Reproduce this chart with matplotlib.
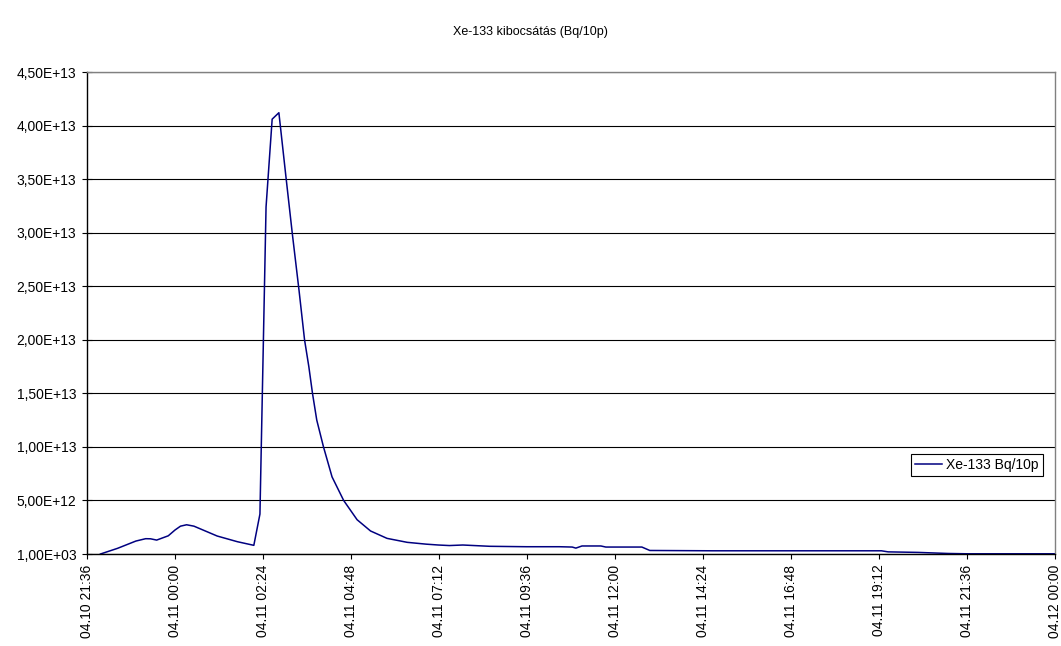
import pandas as pd
import matplotlib.pyplot as plt
import matplotlib.dates as mdates
from matplotlib.ticker import FixedLocator, FuncFormatter

plt.rcParams['font.family'] = ['Liberation Sans', 'DejaVu Sans']

# Xe-133 release per 10 minutes, Paks, 2003 April 10-12
times = [
    "2003-04-10 21:58", "2003-04-10 22:26", "2003-04-10 22:56", "2003-04-10 23:12",
    "2003-04-10 23:20", "2003-04-10 23:30", "2003-04-10 23:49", "2003-04-11 00:00",
    "2003-04-11 00:09", "2003-04-11 00:19", "2003-04-11 00:31", "2003-04-11 01:09",
    "2003-04-11 01:42", "2003-04-11 02:09", "2003-04-11 02:19", "2003-04-11 02:29",
    "2003-04-11 02:39", "2003-04-11 02:50", "2003-04-11 03:01", "2003-04-11 03:12",
    "2003-04-11 03:23", "2003-04-11 03:32", "2003-04-11 03:39", "2003-04-11 03:45",
    "2003-04-11 03:52", "2003-04-11 04:03", "2003-04-11 04:17", "2003-04-11 04:36",
    "2003-04-11 04:58", "2003-04-11 05:20", "2003-04-11 05:47", "2003-04-11 06:20",
    "2003-04-11 06:51", "2003-04-11 07:11", "2003-04-11 07:29", "2003-04-11 07:51",
    "2003-04-11 08:35", "2003-04-11 09:35", "2003-04-11 10:29", "2003-04-11 10:50",
    "2003-04-11 10:56", "2003-04-11 11:06", "2003-04-11 11:37", "2003-04-11 11:45",
    "2003-04-11 12:44", "2003-04-11 12:57", "2003-04-11 14:40", "2003-04-11 16:40",
    "2003-04-11 19:16", "2003-04-11 19:27", "2003-04-11 20:16", "2003-04-11 21:05",
    "2003-04-11 21:37", "2003-04-12 00:00",
]
xe133 = [  # 1E12 Bq
    0.0, 0.53, 1.21, 1.43,
    1.42, 1.30, 1.70, 2.24,
    2.60, 2.73, 2.60, 1.68,
    1.15, 0.81, 3.73, 32.4,
    40.6, 41.2, 35.5, 29.9,
    24.6, 20.0, 17.5, 15.0,
    12.5, 10.0, 7.2, 5.0,
    3.2, 2.15, 1.46, 1.09,
    0.92, 0.84, 0.79, 0.84,
    0.72, 0.68, 0.68, 0.65,
    0.55, 0.75, 0.75, 0.65,
    0.65, 0.33, 0.30, 0.30,
    0.30, 0.20, 0.15, 0.05,
    0.02, 0.02,
]
y_ticks = [1e3, 5e12, 1e13, 1.5e13, 2e13, 2.5e13, 3e13, 3.5e13, 4e13, 4.5e13]

t = pd.to_datetime(times)
vals = [v * 1e12 for v in xe133]

fig = plt.figure(figsize=(10.61, 6.46), dpi=100)
ax = fig.add_axes([0.082, 0.1424, 0.9123, 0.7461])

ax.plot(t, vals, color='#000080', lw=1.1, label='Xe-133 Bq/10p')

start = pd.Timestamp("2003-04-10 21:36")
end = pd.Timestamp("2003-04-12 00:00")
ax.set_xlim(start, end)
ax.set_ylim(1e3, 4.5e13)

x_ticks = pd.date_range(start, end, freq='144min')
ax.xaxis.set_major_locator(FixedLocator(mdates.date2num(x_ticks)))
ax.xaxis.set_major_formatter(mdates.DateFormatter('%m.%d %H:%M'))
ax.yaxis.set_major_locator(FixedLocator(y_ticks))


def sci_comma(v, pos):
    s = f"{v:.2E}"
    return s.replace('.', ',')


ax.yaxis.set_major_formatter(FuncFormatter(sci_comma))
ax.tick_params(axis='x', labelrotation=90, labelsize=10, length=3.6, width=0.8, pad=4)
ax.tick_params(axis='y', direction='inout', labelsize=10, length=6.5, width=0.8, pad=4.5)

ax.grid(axis='y', color='black', lw=0.8)
ax.set_axisbelow(True)
for side in ['left', 'bottom']:
    ax.spines[side].set_color('black')
    ax.spines[side].set_linewidth(1.0)
for side in ['top', 'right']:
    ax.spines[side].set_color('#808080')
    ax.spines[side].set_linewidth(1.0)

fig.text(0.5, 0.95, 'Xe-133 kibocsátás (Bq/10p)', ha='center', va='center', fontsize=9)

leg = ax.legend(loc='upper left', bbox_to_anchor=(0.851, 0.2075), fontsize=10,
                fancybox=False, framealpha=1, edgecolor='black', borderpad=0.3,
                handlelength=1.95, handletextpad=0.3, borderaxespad=0)
leg.get_frame().set_linewidth(0.8)

fig.savefig('out.png', dpi=100)
